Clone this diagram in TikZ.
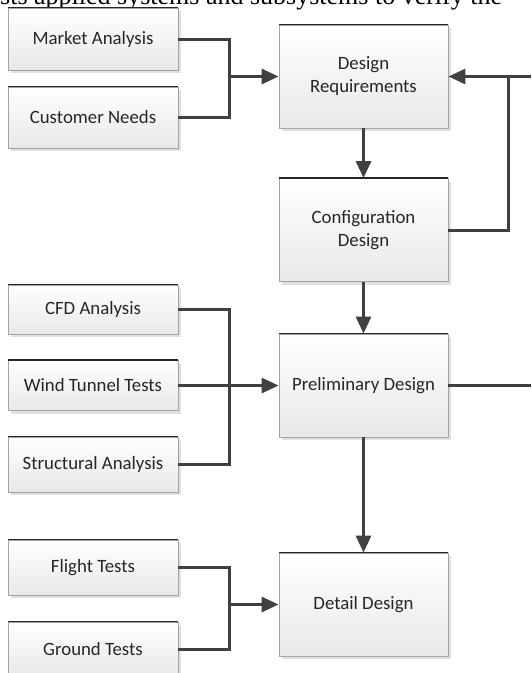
\documentclass[tikz,border=0pt]{standalone}
\usepackage{fontspec}
\setmainfont{Carlito}
\newfontfamily\bodyserif{Liberation Serif}
\usetikzlibrary{arrows.meta,shadows}
\definecolor{wire}{HTML}{404040}
\definecolor{edge}{HTML}{A3A3A3}
\definecolor{ink}{HTML}{262626}
\tikzset{
  block/.style={draw=edge, line width=0.9pt, top color=white, bottom color=black!9,
    text=ink, font=\fontsize{18.8}{23}\selectfont, align=center, inner sep=0pt,
    drop shadow={shadow xshift=3pt, shadow yshift=-3pt, fill=black!12, opacity=1}},
  leftbox/.style={block, minimum width=170pt},
  rightbox/.style={block, minimum width=169pt, minimum height=103pt},
  rim/.style={line width=1.4pt, draw=black!85},
  wirepath/.style={draw=wire, line width=3pt},
  feed/.style={wirepath, -{Triangle[length=17pt,width=15pt]}},
}
\begin{document}
\begin{tikzpicture}[x=1pt,y=-1pt]
\useasboundingbox (0,0) rectangle (531,673);
\clip (0,0) rectangle (531,673);
\fill[white] (0,0) rectangle (531,673);

% running text of the page above the figure, cut by the top edge
\node[anchor=base west, inner sep=0pt, font=\bodyserif\fontsize{26}{30}\selectfont]
  (bodyline) at (0,4.5) {sts applied systems and subsystems to verify the};

% input boxes on the left
\node[leftbox, minimum height=62pt] (ma)  at (93,39)    {Market Analysis};
\node[leftbox, minimum height=61pt] (cn)  at (93,117.5) {Customer Needs};
\node[leftbox, minimum height=49pt] (cfd) at (93,309.5) {CFD Analysis};
\node[leftbox, minimum height=50pt] (wt)  at (93,385.5) {Wind Tunnel Tests};
\node[leftbox, minimum height=55pt] (sa)  at (93,464.5) {Structural Analysis};
\node[leftbox, minimum height=55pt] (ft)  at (93,567.5) {Flight Tests};
\node[leftbox, minimum height=55pt] (gt)  at (93,649.5) {Ground Tests};

% design stages
\node[rightbox] (dr) at (363.5,76.5)  {Design\\Requirements};
\node[rightbox] (cd) at (363.5,230)   {Configuration\\Design};
\node[rightbox] (pd) at (363.5,385.5) {Preliminary Design};
\node[rightbox] (dd) at (363.5,604.5) {Detail Design};

% darker upper rims
\foreach \n in {ma,cn,cfd,wt,sa,ft,gt,dr,cd,pd,dd}
  \draw[rim] (\n.north west) -- (\n.north east);

% merge columns and far-side ends
\coordinate (jx) at (229,0);
\coordinate (loopx) at (508,0);
\coordinate (farin) at (531,76.5);
\coordinate (farout) at (531,385.5);
\coordinate (jtop) at (229,76.5);
\coordinate (jlow) at (229,604.5);

% market analysis + customer needs -> requirements
\draw[wirepath] (ma.east) -| (jtop) |- (cn.east);
\draw[feed] (jtop) -- (dr.west);

% analyses and tests -> preliminary design
\draw[wirepath] (cfd.east) -| (jx |- sa.east) -- (sa.east);
\draw[feed] (wt.east) -- (pd.west);

% flight and ground tests -> detail design
\draw[wirepath] (ft.east) -| (jlow) |- (gt.east);
\draw[feed] (jlow) -- (dd.west);

% main chain
\draw[feed] (dr.south) -- (cd.north);
\draw[feed] (cd.south) -- (pd.north);
\draw[feed] (pd.south) -- (dd.north);

% feedback loop to requirements
\draw[wirepath] (cd.east) -| (loopx |- dr.east);
\draw[feed] (farin) -- (dr.east);
\draw[wirepath] (pd.east) -- (farout);
\end{tikzpicture}
\end{document}
